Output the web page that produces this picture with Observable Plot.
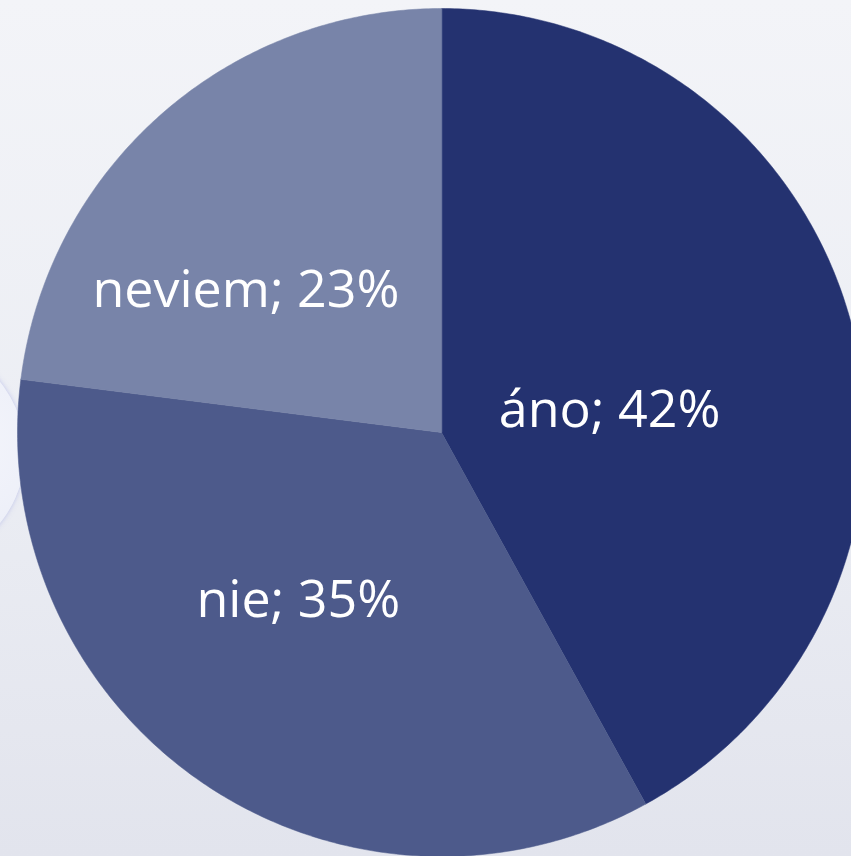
<!DOCTYPE html>
<html>
<head>
<meta charset="utf-8">
<script src="https://cdn.jsdelivr.net/npm/d3@7"></script>
<script src="https://cdn.jsdelivr.net/npm/@observablehq/plot@0.6"></script>
<style>
  html, body { margin: 0; padding: 0; }
  body {
    width: 851px; height: 856px; overflow: hidden; position: relative;
    background: linear-gradient(180deg, #f3f4f8 0%, #eceef4 50%, #e2e4ed 100%);
  }
  #deco {
    position: absolute; left: -225px; top: 335px; width: 250px; height: 235px; border-radius: 50%;
    background: radial-gradient(circle at 75% 45%, #f4f5fb 0%, #e9ecf7 65%, #d4d8f2 100%);
    box-shadow: 0 0 5px rgba(170,175,230,0.7);
  }
  #chart { position: absolute; left: 0; top: 0; }
</style>
</head>
<body>
<div id="deco"></div>
<div id="chart"></div>
<script>
const categories = ["áno", "nie", "neviem"];
const values = [42, 35, 23];
const colors = ["#243270", "#4d5a8b", "#7884a9"];

const W = 851, H = 856;
const cx = 441, cy = 432, R = 424;

// pie angles (clockwise from 12 o'clock)
const arcs = d3.pie().sort(null).value(d => d.value)(
  categories.map((c, i) => ({category: c, value: values[i]}))
);

// polygon points for each slice in unit coordinates
const slicePts = [];
arcs.forEach(a => {
  const c = a.data.category;
  slicePts.push({category: c, x: 0, y: 0});
  const n = Math.max(8, Math.ceil((a.endAngle - a.startAngle) / 0.01));
  for (let k = 0; k <= n; k++) {
    const t = a.startAngle + (a.endAngle - a.startAngle) * k / n;
    slicePts.push({category: c, x: Math.sin(t), y: Math.cos(t)});
  }
});

// label placement (Excel-like inside labels)
const labelTweak = {"áno": {da: 0.12, r: 0.40}, "nie": {da: 0.11, r: 0.52}, "neviem": {da: -0.22, r: 0.57}};
const labels = arcs.map(a => {
  const c = a.data.category;
  const t = (a.startAngle + a.endAngle) / 2 + labelTweak[c].da;
  const r = labelTweak[c].r;
  return {category: c, label: `${c}; ${a.data.value}%`, x: r * Math.sin(t), y: r * Math.cos(t)};
});

const plot = Plot.plot({
  width: W, height: H,
  margin: 0,
  style: {background: "transparent", overflow: "visible"},
  x: {domain: [-1, 1], range: [cx - R, cx + R], axis: null},
  y: {domain: [1, -1], range: [cy - R, cy + R], axis: null},
  color: {domain: categories, range: colors},
  marks: [
    Plot.line(slicePts, {x: "x", y: "y", z: "category", fill: "category", stroke: "category", strokeWidth: 0.5, curve: "linear-closed"}),
    Plot.text(labels, {x: "x", y: "y", text: "label", fill: "white", fontSize: 52, fontFamily: "'Open Sans', Lato, sans-serif", textAnchor: "middle", lineAnchor: "middle"})
  ]
});
document.getElementById("chart").appendChild(plot);
</script>
</body>
</html>
